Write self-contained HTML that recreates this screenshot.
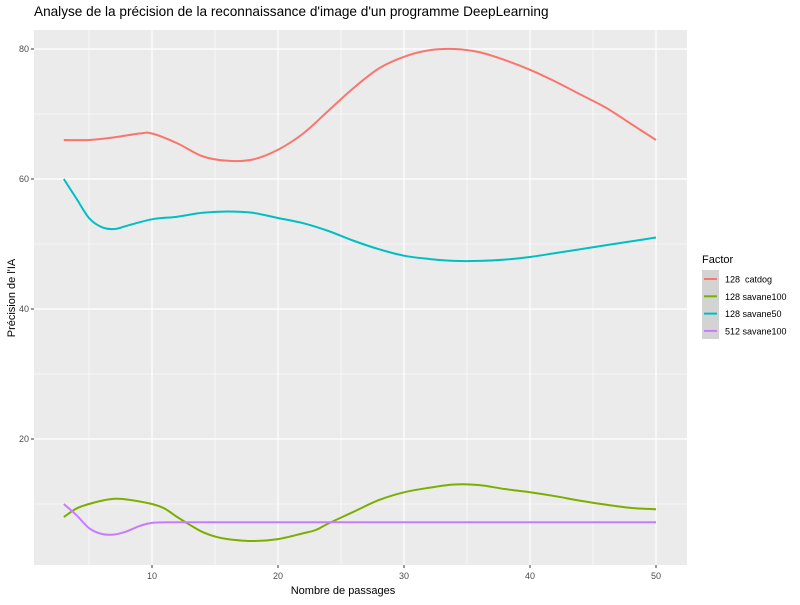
<!DOCTYPE html>
<html><head><meta charset="utf-8"><style>
body{margin:0;background:#fff;font-family:"Liberation Sans",Arial,sans-serif}
</style></head><body>
<svg id="c" width="800" height="600" xmlns="http://www.w3.org/2000/svg">
<text x="34" y="16" font-size="13.6" fill="#000">Analyse de la précision de la reconnaissance d'image d'un programme DeepLearning</text>
<rect x="34" y="30" width="653" height="535" fill="#ebebeb"/>
<g id="grid"></g><g id="lines"></g><g id="axes"></g>
<text x="343" y="594" font-size="11" text-anchor="middle">Nombre de passages</text>
<text transform="translate(15,298) rotate(-90)" font-size="11" text-anchor="middle">Précision de l'IA</text>
<g>
<text x="702" y="263" font-size="11">Factor</text>
<rect x="702" y="270" width="17" height="69" fill="#d3d3d3"/>
<g id="leg"></g>
</g>
</svg>
<script>
const xTicks=[10,20,30,40,50];
const yTicks=[20,40,60,80];
const seriesNames=["128  catdog","128 savane100","128 savane50","512 savane100"];
const colors=["#f8766d","#7cae00","#00bfc4","#c77cff"];
const catdogX=[3,5,7,9,10,12,14,16,18,20,22,24,26,28,30,32,34,36,38,40,42,44,46,48,50];
const catdogY=[66,66,66.4,67,67,65.5,63.5,62.8,63,64.5,67,70.5,74,77,78.8,79.8,80,79.5,78.3,76.8,75,73,71,68.5,66];
const sav50X=[3,4,5,6,7,8,10,12,14,16,18,20,22,24,26,28,30,32,34,36,38,40,42,44,46,48,50];
const sav50Y=[60,57,54,52.6,52.3,52.8,53.8,54.2,54.8,55,54.8,54,53.2,52,50.5,49.2,48.2,47.7,47.4,47.4,47.6,48,48.6,49.2,49.8,50.4,51];
const sav100X=[3,4,5,6,7,8,10,11,12,13,14,15,16,18,20,22,23,24,26,28,30,32,34,36,38,40,42,44,46,48,50];
const sav100Y=[8,9.3,10,10.5,10.8,10.7,10,9.3,8,6.8,5.7,5,4.6,4.3,4.6,5.5,6,7,8.8,10.6,11.8,12.5,13,12.9,12.3,11.8,11.2,10.5,9.9,9.4,9.2];
const s512X=[3,4,5,6,7,8,9,10,12,20,30,40,50];
const s512Y=[10,8.3,6.3,5.4,5.3,5.8,6.6,7.1,7.2,7.2,7.2,7.2,7.2];
const NS="http://www.w3.org/2000/svg";
const sx=v=>152+(v-10)*12.6;
const sy=v=>569-v*6.5;
function mk(t,a,p){const e=document.createElementNS(NS,t);for(const k in a)e.setAttribute(k,a[k]);p.appendChild(e);return e;}
const grid=document.getElementById('grid'),axes=document.getElementById('axes');
[5,15,25,35,45].forEach(v=>{const l=mk('line',{x1:sx(v),x2:sx(v),y1:30,y2:565,stroke:'#fff','stroke-width':0.6},grid);

});
[10,30,50,70].forEach(v=>{const l=mk('line',{x1:34,x2:687,y1:sy(v),y2:sy(v),stroke:'#fff','stroke-width':0.6},grid);

});
xTicks.forEach(v=>{const l=mk('line',{x1:sx(v),x2:sx(v),y1:30,y2:565,stroke:'#fff','stroke-width':1.2},grid);


const t=mk('line',{x1:sx(v),x2:sx(v),y1:565,y2:568,stroke:'#333'},axes);


const tx=mk('text',{x:sx(v),y:579,'font-size':9,'text-anchor':'middle',fill:'#4d4d4d'},axes);tx.textContent=v;

});
yTicks.forEach(v=>{const l=mk('line',{x1:34,x2:687,y1:sy(v),y2:sy(v),stroke:'#fff','stroke-width':1.2},grid);


const t=mk('line',{x1:31,x2:34,y1:sy(v),y2:sy(v),stroke:'#333'},axes);


const tx=mk('text',{x:29,y:sy(v)+3,'font-size':9,'text-anchor':'end',fill:'#4d4d4d'},axes);tx.textContent=v;

});
function path(xs,ys){const p=xs.map((x,i)=>[sx(x),sy(ys[i])]);let d='M'+p[0][0]+','+p[0][1];
for(let i=0;i<p.length-1;i++){const p0=p[i-1]||p[i],p1=p[i],p2=p[i+1],p3=p[i+2]||p2;
d+=' C'+(p1[0]+(p2[0]-p0[0])/6)+','+(p1[1]+(p2[1]-p0[1])/6)+' '+(p2[0]-(p3[0]-p1[0])/6)+','+(p2[1]-(p3[1]-p1[1])/6)+' '+p2[0]+','+p2[1];}
return d;}
const lines=document.getElementById('lines');
const data=[[catdogX,catdogY],[sav100X,sav100Y],[sav50X,sav50Y],[s512X,s512Y]];
const lnames=['line-128-catdog','line-128-savane100','line-128-savane50','line-512-savane100'];
data.forEach((s,i)=>{const p=mk('path',{d:path(s[0],s[1]),fill:'none',stroke:colors[i],'stroke-width':2},lines);

});
const leg=document.getElementById('leg');
seriesNames.forEach((n,i)=>{const y=279+i*17.3;
const l=mk('line',{x1:704,x2:717,y1:y,y2:y,stroke:colors[i],'stroke-width':2},leg);


const t=mk('text',{x:725,y:y+3.5,'font-size':9,fill:'#000',style:'white-space:pre'},leg);t.textContent=n;

});
</script>
</body></html>
